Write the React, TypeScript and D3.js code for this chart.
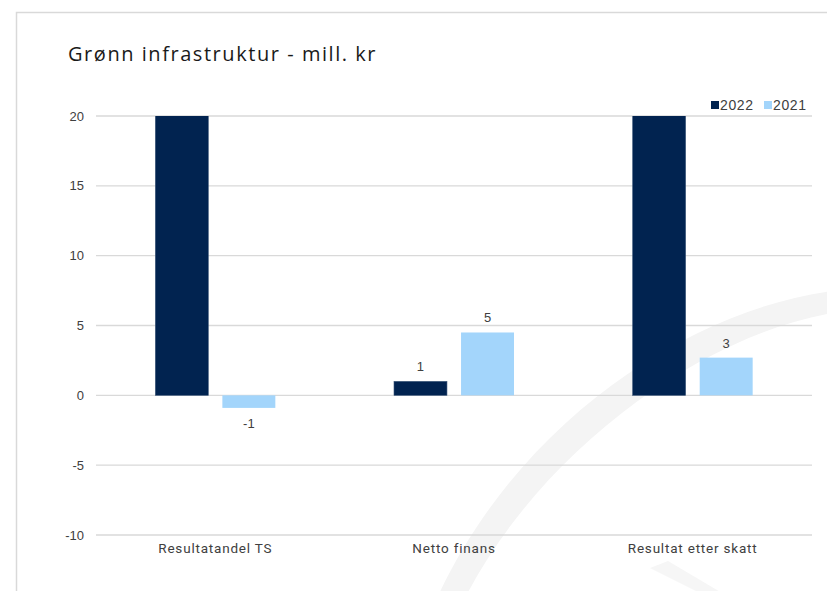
import React from "react";
import * as d3 from "d3";

const categories = ["Resultatandel TS", "Netto finans", "Resultat etter skatt"];
const seriesNames = ["2022", "2021"];
const values2022 = [26, 1.0, 25];
const values2021 = [-0.9, 4.5, 2.7];
const labels2022 = ["", "1", ""];
const labels2021 = ["-1", "5", "3"];
const yTicks = [-10, -5, 0, 5, 10, 15, 20];
const title = "Grønn infrastruktur - mill. kr";

const W = 827;
const H = 591;
const colors: Record<string, string> = { "2022": "#012350", "2021": "#a3d5fb" };

export default function App() {
  const y = d3.scaleLinear().domain([-10, 20]).range([535, 116]);
  const x0 = d3.scaleBand<string>().domain(categories).range([96, 812]).padding(0);
  const groupW = 120;
  const x1 = d3.scaleBand<string>().domain(seriesNames).range([0, groupW]).paddingInner(0.21);
  const off = (x0.bandwidth() - groupW) / 2;
  const seriesVals: Record<string, number[]> = { "2022": values2022, "2021": values2021 };
  const seriesLabels: Record<string, string[]> = { "2022": labels2022, "2021": labels2021 };
  const font = "'Liberation Sans', Arial, sans-serif";

  // background watermark arc
  const outer = d3.path();
  outer.moveTo(W + 5, 291);
  outer.bezierCurveTo(690, 310, 520, 420, 438, H + 5);
  outer.lineTo(466, H + 5);
  outer.bezierCurveTo(545, 445, 705, 335, W + 5, 313);
  outer.closePath();

  return (
    <svg width={W} height={H} style={{ position: "absolute", left: 0, top: 0, background: "#fff" }}>
      <rect x={16.5} y={12.5} width={W} height={H} fill="#fff" stroke="#d9d9d9" strokeWidth={1.5} />
      <path d={outer.toString()} fill="#f4f4f4" />
      <path d={`M650,568 L668,561 L722,${H + 2} L700,${H + 2} Z`} fill="#f6f6f6" />
      <text x={68} y={61} fontFamily="'Open Sans', sans-serif" fontSize={20} letterSpacing={1.55} fill="#1a1a1a">
        {title}
      </text>
      {yTicks.map((t) => (
        <g key={t}>
          <line x1={96} x2={812} y1={y(t)} y2={y(t)} stroke="#d9d9d9" strokeWidth={1.3} />
          <text x={84} y={y(t) + 4.5} textAnchor="end" fontFamily={font} fontSize={13} fill="#404040">
            {t}
          </text>
        </g>
      ))}
      <defs>
        <clipPath id="plot">
          <rect x={96} y={y(20)} width={716} height={y(-10) - y(20)} />
        </clipPath>
      </defs>
      <g clipPath="url(#plot)">
        {categories.map((c, i) =>
          seriesNames.map((s) => {
            const v = seriesVals[s][i];
            const bx = (x0(c) as number) + off + (x1(s) as number);
            const top = y(Math.max(v, 0));
            const h = Math.abs(y(v) - y(0));
            return (
              <rect
                key={c + s}
                x={bx}
                y={top}
                width={x1.bandwidth()}
                height={h}
                fill={colors[s]}
                stroke={s === "2022" ? "#3a5578" : "none"}
                strokeWidth={0.6}
              />
            );
          })
        )}
      </g>
      {categories.map((c, i) =>
        seriesNames.map((s) => {
          const v = seriesVals[s][i];
          const lab = seriesLabels[s][i];
          if (!lab) return null;
          const cx = (x0(c) as number) + off + (x1(s) as number) + x1.bandwidth() / 2;
          const ly = v >= 0 ? y(v) - 10 : y(v) + 20;
          return (
            <text key={"l" + c + s} x={cx} y={ly} textAnchor="middle" fontFamily={font} fontSize={13} fill="#404040">
              {lab}
            </text>
          );
        })
      )}
      {categories.map((c) => (
        <text
          key={"c" + c}
          x={(x0(c) as number) + x0.bandwidth() / 2}
          y={553}
          textAnchor="middle"
          fontFamily="Roboto, sans-serif"
          fontSize={13.5}
          letterSpacing={0.8}
          fill="#404040"
        >
          {c}
        </text>
      ))}
      {seriesNames.map((s, i) => {
        const lx = 711 + i * 53;
        return (
          <g key={"lg" + s}>
            <rect x={lx} y={101} width={8} height={8} fill={colors[s]} />
            <text x={lx + 9} y={110} fontFamily={font} fontSize={14} letterSpacing={0.6} fill="#404040">
              {s}
            </text>
          </g>
        );
      })}
    </svg>
  );
}
